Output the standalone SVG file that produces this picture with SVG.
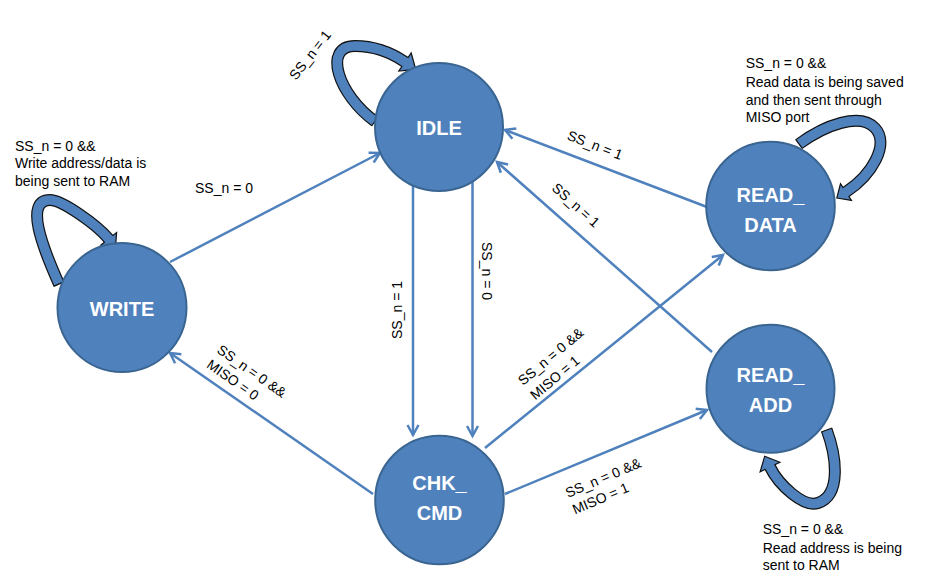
<svg xmlns="http://www.w3.org/2000/svg" width="945" height="586" viewBox="0 0 945 586">
<defs>
<style>
.nc{fill:#4F81BD;stroke:#3A6591;stroke-width:2}
.nt{font-family:"Liberation Sans",Arial,sans-serif;font-weight:bold;font-size:20px;fill:#fff;text-anchor:middle}
.lbl{font-family:"Liberation Sans",Arial,sans-serif;font-size:14px;fill:#000}
.mid{text-anchor:middle}
.conn{stroke:#4F81BD;stroke-width:2.5;fill:none;marker-end:url(#arr)}
.lo{fill:none;stroke:#111;stroke-width:12}
.li{fill:none;stroke:#4F81BD;stroke-width:9.6}
.hd{fill:#4F81BD;stroke:#111;stroke-width:1.2}
.cap{stroke:#111;stroke-width:1.2}
</style>
<marker id="arr" markerUnits="userSpaceOnUse" markerWidth="16" markerHeight="16" viewBox="-2 -2 16 16" refX="11" refY="6" orient="auto">
<path d="M1,0.5 L11,6 L1,11.5" fill="none" stroke="#4F81BD" stroke-width="2.5"/>
</marker>
</defs>
<rect width="945" height="586" fill="#fff"/>

<g id="connectors">
<line class="conn" x1="170" y1="262" x2="380" y2="153"/>
<line class="conn" x1="413" y1="186" x2="413" y2="435"/>
<line class="conn" x1="472.5" y1="182" x2="472.5" y2="436"/>
<line class="conn" x1="707" y1="207" x2="505" y2="130"/>
<line class="conn" x1="712" y1="352" x2="497" y2="162"/>
<line class="conn" x1="485" y1="448" x2="723" y2="255"/>
<line class="conn" x1="505" y1="494" x2="707" y2="410"/>
<line class="conn" x1="373" y1="494" x2="170" y2="353"/>

<text class="lbl" x="195" y="193">SS_n = 0</text>
<text class="lbl mid" transform="translate(397,310) rotate(-90)" x="0" y="5">SS_n = 1</text>
<text class="lbl mid" transform="translate(487,271) rotate(90)" x="0" y="5">SS_n = 0</text>
<text class="lbl mid" transform="translate(595,145) rotate(21)" x="0" y="5">SS_n = 1</text>
<text class="lbl mid" transform="translate(576,205) rotate(42)" x="0" y="5">SS_n = 1</text>
<text class="lbl" transform="translate(523,386) rotate(-40)"><tspan x="0" y="0">SS_n = 0 &amp;&amp;</tspan><tspan x="0" y="19">MISO = 1</tspan></text>
<text class="lbl" transform="translate(568,498) rotate(-23)"><tspan x="0" y="0">SS_n = 0 &amp;&amp;</tspan><tspan x="0" y="18">MISO = 1</tspan></text>
<text class="lbl" transform="translate(216,352) rotate(35)"><tspan x="0" y="0">SS_n = 0 &amp;&amp;</tspan><tspan x="0" y="18">MISO = 0</tspan></text>
</g>

<g id="loop-idle">
<path class="lo" d="M375,121.3 C338.5,95.2 322,46 355,46 C374.8,46 392.7,53.6 405,62"/>
<polygon class="hd" points="415.7,69.3 398.8,71 411.2,53"/>
<path class="li" d="M375,121.3 C338.5,95.2 322,46 355,46 C374.8,46 392.7,53.6 405,62 L406.6,63.1"/>
<line class="cap" x1="378.4" y1="116.6" x2="371.6" y2="126"/>
<text class="lbl mid" transform="translate(310,55) rotate(-52)" x="0" y="5">SS_n = 1</text>
</g>

<g id="loop-write">
<path class="lo" d="M59,284 C42.6,247.6 24,200 50,200 C62,200 96,224 108.7,238.8"/>
<polygon class="hd" points="115.5,247.5 100.8,245.1 116.6,232.6"/>
<path class="li" d="M59,284 C42.6,247.6 24,200 50,200 C62,200 96,224 108.7,238.8 L110,240.4"/>
<line class="cap" x1="64.3" y1="281.6" x2="53.7" y2="286.4"/>
<text class="lbl"><tspan x="15" y="150.7">SS_n = 0 &amp;&amp;</tspan><tspan x="15" y="168.3">Write address/data is</tspan><tspan x="15" y="186">being sent to RAM</tspan></text>
</g>

<g id="loop-read-data">
<path class="lo" d="M799,144 C825,125 860,112 875,128 C890,144 872,175 846,192"/>
<polygon class="hd" points="836.8,198 851.5,200.4 840.5,183.6"/>
<path class="li" d="M799,144 C825,125 860,112 875,128 C890,144 872,175 846,192 L844.3,193.1"/>
<line class="cap" x1="802.4" y1="148.7" x2="795.6" y2="139.3"/>
<text class="lbl"><tspan x="745.7" y="68.3">SS_n = 0 &amp;&amp;</tspan><tspan x="745.7" y="86.5">Read data is being saved</tspan><tspan x="745.7" y="104.5">and then sent through</tspan><tspan x="745.7" y="122.3">MISO port</tspan></text>
</g>

<g id="loop-read-add">
<path class="lo" d="M826.7,430 C836,455 842,495 818,503 C803.6,507.8 778.8,485 770,467"/>
<polygon class="hd" points="764.7,456.2 779.9,462.2 760.1,471.8"/>
<path class="li" d="M826.7,430 C836,455 842,495 818,503 C803.6,507.8 778.8,485 770,467 L769.1,465.2"/>
<line class="cap" x1="832.2" y1="428" x2="821.2" y2="432"/>
<text class="lbl"><tspan x="762.7" y="534.3">SS_n = 0 &amp;&amp;</tspan><tspan x="762.7" y="552.5">Read address is being</tspan><tspan x="762.7" y="570">sent to RAM</tspan></text>
</g>

<g id="node-idle">
<circle class="nc" cx="439" cy="127" r="64"/>
<text class="nt" x="439" y="134.5">IDLE</text>
</g>
<g id="node-write">
<circle class="nc" cx="122" cy="307.5" r="64.5"/>
<text class="nt" x="122" y="316">WRITE</text>
</g>
<g id="node-read-data">
<circle class="nc" cx="770.5" cy="206" r="64.3"/>
<text class="nt" x="770.5" y="201.7">READ_</text>
<text class="nt" x="770.5" y="231.7">DATA</text>
</g>
<g id="node-read-add">
<circle class="nc" cx="770.5" cy="388.8" r="64"/>
<text class="nt" x="770.5" y="381.7">READ_</text>
<text class="nt" x="770.5" y="411.7">ADD</text>
</g>
<g id="node-chk-cmd">
<circle class="nc" cx="439.5" cy="500" r="64.3"/>
<text class="nt" x="439.5" y="490">CHK_</text>
<text class="nt" x="439.5" y="520">CMD</text>
</g>
</svg>
